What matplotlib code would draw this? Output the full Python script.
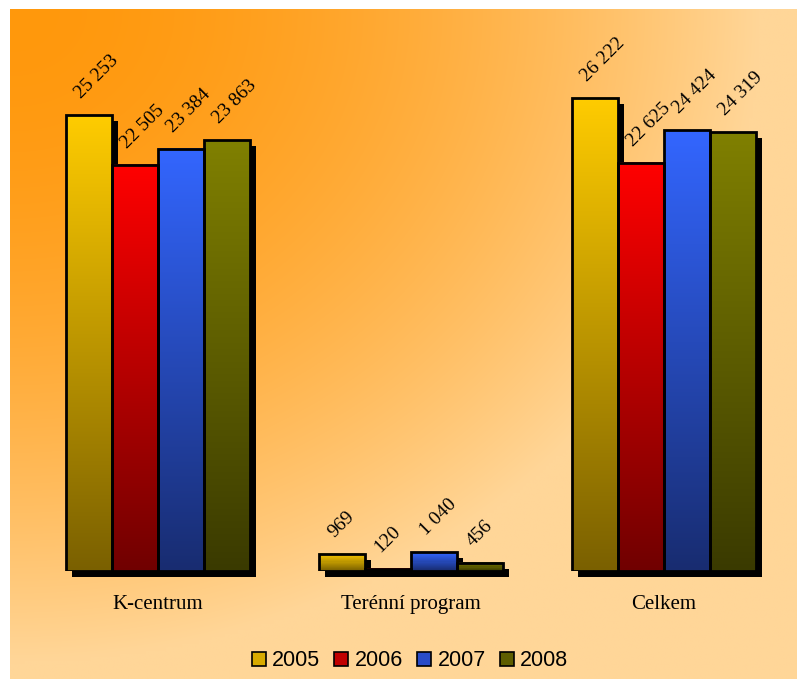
import numpy as np
import matplotlib
matplotlib.use("Agg")
import matplotlib.pyplot as plt
from matplotlib.patches import Rectangle, Patch

# data
categories = ["K-centrum", "Terénní program", "Celkem"]
years = ["2005", "2006", "2007", "2008"]
values = {
    "2005": [25253, 969, 26222],
    "2006": [22505, 120, 22625],
    "2007": [23384, 1040, 24424],
    "2008": [23863, 456, 24319],
}

# colours: (top, bottom) of each bar gradient
top_cols = ["#FFCC00", "#FF0000", "#3366FF", "#808000"]
bot_cols = ["#7A6000", "#700000", "#182C70", "#3A3A00"]
leg_cols = ["#D8AA00", "#C00000", "#2A4CC8", "#5E5E00"]

W, H = 797, 679
fig = plt.figure(figsize=(W / 100, H / 100), dpi=100)
fig.patch.set_facecolor("white")

# background panel with orange -> peach gradient from top-left
bg = fig.add_axes([10 / W, 0, (W - 10) / W, (H - 9) / H])
bg.set_axis_off()
ny, nx = 200, 240
yy, xx = np.mgrid[0:ny, 0:nx]
px = xx / nx * (W - 10)
py = yy / ny * (H - 9)
d = np.sqrt((px / 1.15) ** 2 + (py / 1.0) ** 2)
t = np.clip(d / 650, 0, 1) ** 1.8
c0 = np.array([255, 152, 12]) / 255
c1 = np.array([255, 214, 152]) / 255
img = c0[None, None, :] * (1 - t[..., None]) + c1[None, None, :] * t[..., None]
bg.imshow(img, aspect="auto", extent=(0, 1, 0, 1), origin="upper", interpolation="bilinear")
bg.set_xlim(0, 1)
bg.set_ylim(0, 1)

# main axes: baseline at y=571 px, group spacing 253 px
base_px = H - 571
unit_x = 253.0
unit_y = 0.01805
ax = fig.add_axes([10 / W, base_px / H, (W - 10) / W, (H - 9 - base_px) / H])
ax.patch.set_alpha(0)
ax.set_xlim(-(158 - 10) / unit_x, (W - 158) / unit_x)
ax.set_ylim(0, (H - 9 - base_px) / unit_y)
for s in ax.spines.values():
    s.set_visible(False)
ax.set_yticks([])

bw = 46 / unit_x
sh_dx = 6 / unit_x
sh_dy = 6 / unit_y
x = np.arange(len(categories))

def grad_img(c_top, c_bot, n):
    a = np.array(matplotlib.colors.to_rgb(c_top))
    b = np.array(matplotlib.colors.to_rgb(c_bot))
    s = np.linspace(0, 1, n)[:, None]
    return (a * (1 - s) + b * s)[:, None, :]

# shadows first (always reaching up to the baseline)
for i, yr in enumerate(years):
    for j, v in enumerate(values[yr]):
        x0 = x[j] + (i - 2) * bw
        ax.add_patch(Rectangle((x0 + sh_dx, -sh_dy), bw, max(v, sh_dy * 1.1), facecolor="black",
                               edgecolor="none", zorder=1, clip_on=False))

for i, yr in enumerate(years):
    for j, v in enumerate(values[yr]):
        x0 = x[j] + (i - 2) * bw
        n = max(2, int(v * unit_y))
        ax.imshow(grad_img(top_cols[i], bot_cols[i], n), aspect="auto",
                  extent=(x0, x0 + bw, 0, v), origin="upper", zorder=2,
                  interpolation="nearest")
        ax.add_patch(Rectangle((x0, 0), bw, v, facecolor="none", edgecolor="black",
                               linewidth=2, zorder=3))
        lab = f"{v:,}".replace(",", " ")
        ax.annotate(lab, (x0 + bw / 2, v), xytext=(-5, 13), textcoords="offset pixels",
                    rotation=45, rotation_mode="anchor", ha="left", va="bottom",
                    fontsize=14, family="Liberation Serif", zorder=4)

ax.set_xticks(x)
ax.set_xticklabels(categories, fontsize=15, family="Liberation Serif")
ax.tick_params(axis="x", length=0, pad=17)

handles = [Patch(facecolor=c, edgecolor="black", linewidth=1.2) for c in leg_cols]
fig.legend(handles, years, loc="center", bbox_to_anchor=(410 / W, 1 - 661 / H), ncol=4,
           frameon=False, prop={"family": "Liberation Sans", "size": 15.5},
           handlelength=0.65, handleheight=0.65, handletextpad=0.3, columnspacing=0.65)

fig.savefig("out.png", dpi=100, facecolor=fig.get_facecolor())
